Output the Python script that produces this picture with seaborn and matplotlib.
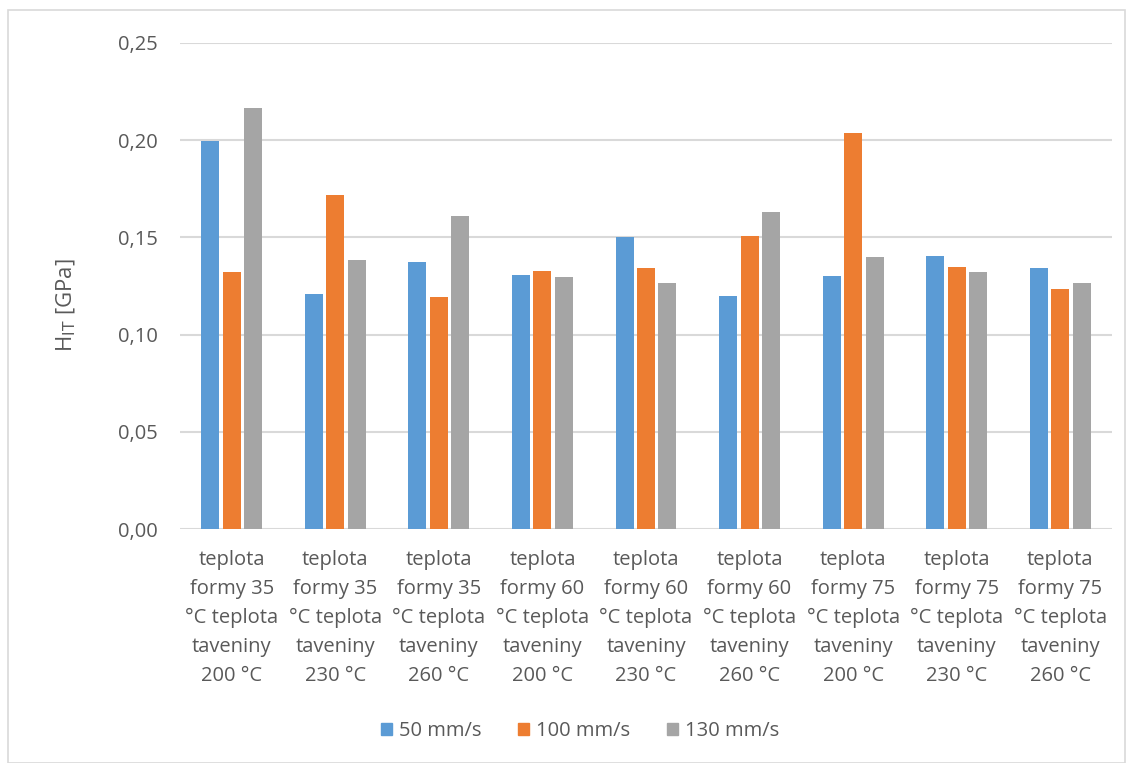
import matplotlib
matplotlib.use("Agg")
import matplotlib.pyplot as plt
from matplotlib.ticker import FuncFormatter
from matplotlib.patches import Rectangle
import seaborn as sns
import pandas as pd

categories = [
    "teplota\nformy 35\n°C teplota\ntaveniny\n200 °C",
    "teplota\nformy 35\n°C teplota\ntaveniny\n230 °C",
    "teplota\nformy 35\n°C teplota\ntaveniny\n260 °C",
    "teplota\nformy 60\n°C teplota\ntaveniny\n200 °C",
    "teplota\nformy 60\n°C teplota\ntaveniny\n230 °C",
    "teplota\nformy 60\n°C teplota\ntaveniny\n260 °C",
    "teplota\nformy 75\n°C teplota\ntaveniny\n200 °C",
    "teplota\nformy 75\n°C teplota\ntaveniny\n230 °C",
    "teplota\nformy 75\n°C teplota\ntaveniny\n260 °C",
]
series_names = ["50 mm/s", "100 mm/s", "130 mm/s"]
hit_50 = [0.1996, 0.1211, 0.1376, 0.1309, 0.1501, 0.1198, 0.1304, 0.1402, 0.1343]
hit_100 = [0.1322, 0.1718, 0.1191, 0.1325, 0.1343, 0.1508, 0.2037, 0.1350, 0.1237]
hit_130 = [0.2167, 0.1383, 0.1612, 0.1297, 0.1263, 0.1633, 0.1397, 0.1323, 0.1263]
y_ticks = [0.00, 0.05, 0.10, 0.15, 0.20, 0.25]

colors = ["#5B9BD5", "#ED7D31", "#A5A5A5"]
text_color = "#595959"
grid_color = "#D9D9D9"

rows = []
for name, vals in zip(series_names, [hit_50, hit_100, hit_130]):
    for cat, v in zip(categories, vals):
        rows.append({"kategorie": cat, "rychlost": name, "HIT": v})
df = pd.DataFrame(rows)

sns.set_theme(style="white")
plt.rcParams["font.family"] = ["Open Sans", "DejaVu Sans"]

fig = plt.figure(figsize=(11.33, 7.63), dpi=100)
ax = fig.add_axes([180 / 1133, 1 - 529 / 763, 932 / 1133, 486 / 763])

sns.barplot(data=df, x="kategorie", y="HIT", hue="rychlost",
            order=categories, hue_order=series_names, palette=colors,
            width=0.62, gap=0.16, ax=ax, edgecolor="none", saturation=1)

ax.set_ylim(0, 0.25)
ax.set_xlim(-0.5, len(categories) - 0.5)
ax.set_yticks(y_ticks)
ax.yaxis.set_major_formatter(FuncFormatter(lambda v, p: f"{v:.2f}".replace(".", ",")))
ax.grid(axis="y", color=grid_color, linewidth=1.5)
ax.set_axisbelow(True)
for s in ax.spines.values():
    s.set_visible(False)
ax.tick_params(axis="both", length=0, colors=text_color, labelsize=14.5)
ax.tick_params(axis="y", pad=16)
ax.tick_params(axis="x", pad=15)
for lbl in ax.get_xticklabels():
    lbl.set_linespacing(1.6)
    lbl.set_color(text_color)
ax.set_xlabel("")
ax.set_ylabel(r"H$_{\mathrm{IT}}$ [GPa]", color=text_color, fontsize=16)
ax.yaxis.set_label_coords(-0.109, 0.46)

ax.get_legend().remove()
handles = [plt.Rectangle((0, 0), 1, 1, color=c) for c in colors]
fig.legend(handles, series_names, loc="center", bbox_to_anchor=(580 / 1133, 1 - 731 / 763),
           ncol=3, frameon=False, fontsize=14.5, labelcolor=text_color,
           handlelength=0.55, handleheight=0.55, handletextpad=0.35, columnspacing=1.8)

fig.patches.append(Rectangle((8 / 1133, 0.0), 1117 / 1133, 1 - 10 / 763,
                             transform=fig.transFigure, fill=False,
                             edgecolor=grid_color, linewidth=1.2))

fig.savefig("out.png", dpi=100)
